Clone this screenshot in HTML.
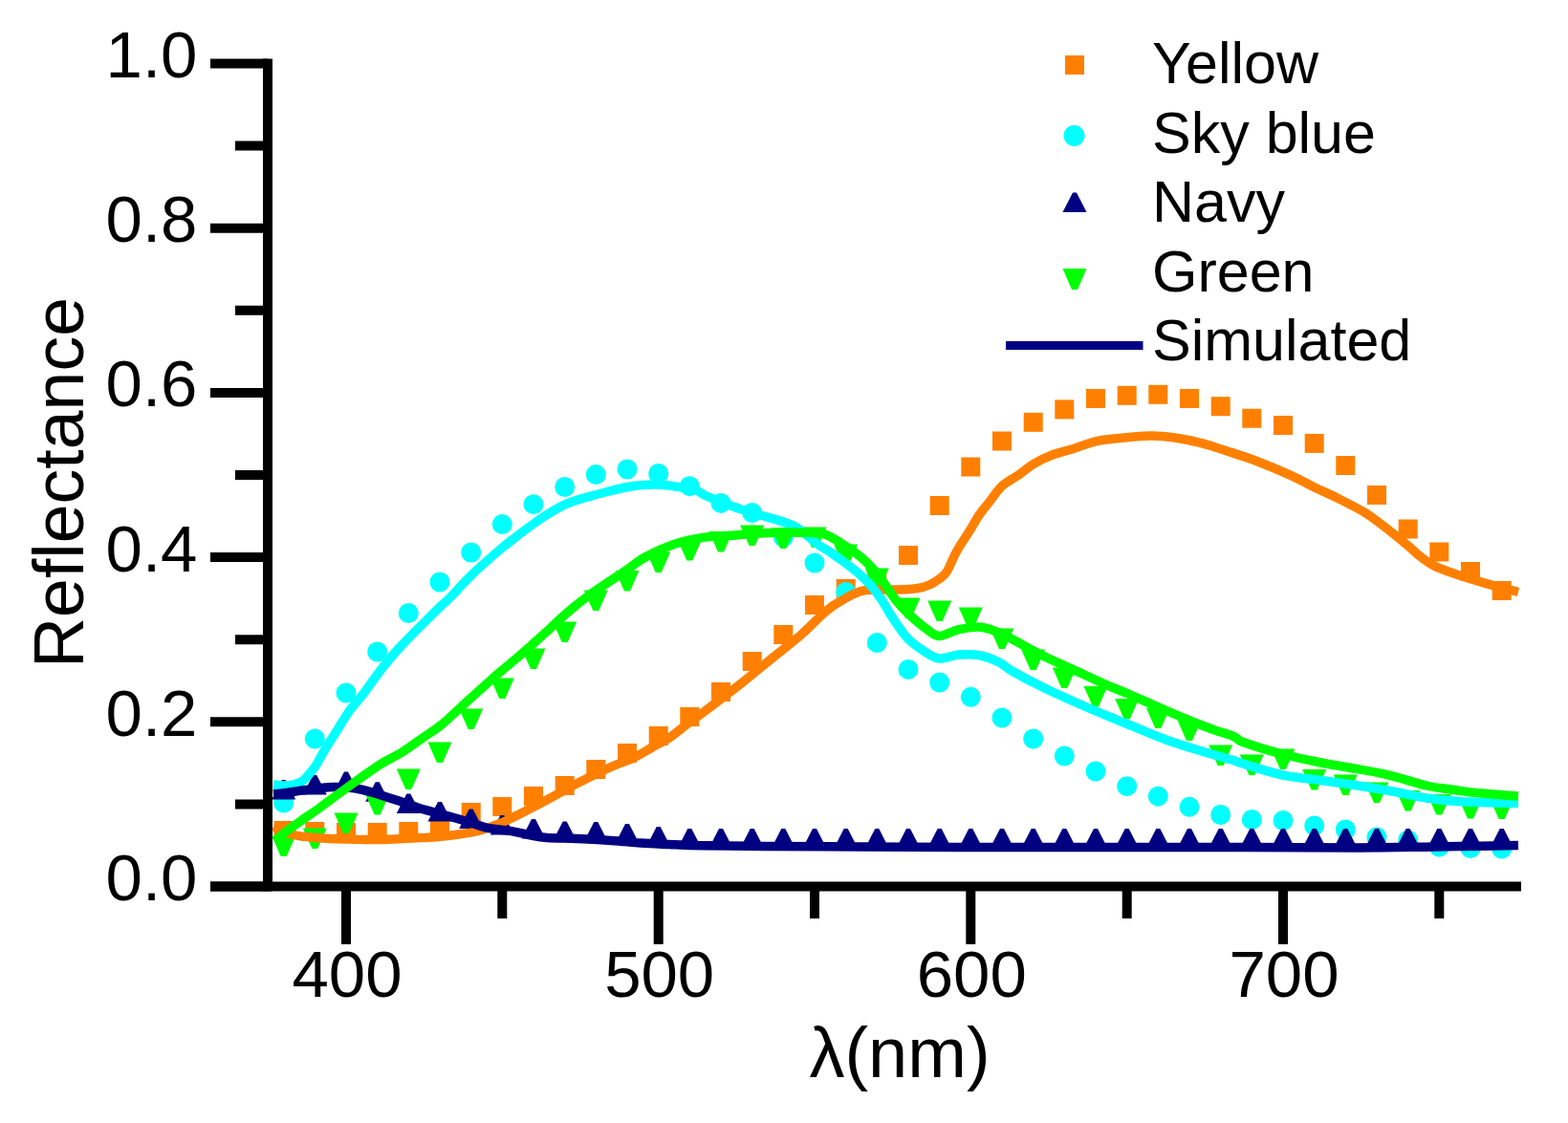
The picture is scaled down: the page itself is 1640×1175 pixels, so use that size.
<!DOCTYPE html>
<html><head><meta charset="utf-8"><title>Reflectance</title>
<style>
html,body{margin:0;padding:0;background:#fff;}
body{width:1640px;height:1175px;overflow:hidden;}
svg{display:block;}
text{font-family:"Liberation Sans",Arial,sans-serif;fill:#000;}
</style></head>
<body>
<svg width="1640" height="1175" viewBox="0 0 1640 1175">
<rect width="1640" height="1175" fill="#fff"/>
<line x1="280" y1="61.5" x2="280" y2="932.5" stroke="#000" stroke-width="10"/>
<line x1="220" y1="927.5" x2="1591" y2="927.5" stroke="#000" stroke-width="10"/>
<line x1="220" y1="927.5" x2="280" y2="927.5" stroke="#000" stroke-width="10"/>
<line x1="220" y1="755.3" x2="280" y2="755.3" stroke="#000" stroke-width="10"/>
<line x1="220" y1="583.1" x2="280" y2="583.1" stroke="#000" stroke-width="10"/>
<line x1="220" y1="410.9" x2="280" y2="410.9" stroke="#000" stroke-width="10"/>
<line x1="220" y1="238.7" x2="280" y2="238.7" stroke="#000" stroke-width="10"/>
<line x1="220" y1="66.5" x2="280" y2="66.5" stroke="#000" stroke-width="10"/>
<line x1="246" y1="841.4" x2="280" y2="841.4" stroke="#000" stroke-width="10"/>
<line x1="246" y1="669.2" x2="280" y2="669.2" stroke="#000" stroke-width="10"/>
<line x1="246" y1="497.0" x2="280" y2="497.0" stroke="#000" stroke-width="10"/>
<line x1="246" y1="324.8" x2="280" y2="324.8" stroke="#000" stroke-width="10"/>
<line x1="246" y1="152.6" x2="280" y2="152.6" stroke="#000" stroke-width="10"/>
<line x1="362.0" y1="927.5" x2="362.0" y2="988" stroke="#000" stroke-width="10"/>
<line x1="688.7" y1="927.5" x2="688.7" y2="988" stroke="#000" stroke-width="10"/>
<line x1="1015.3" y1="927.5" x2="1015.3" y2="988" stroke="#000" stroke-width="10"/>
<line x1="1342.0" y1="927.5" x2="1342.0" y2="988" stroke="#000" stroke-width="10"/>
<line x1="525.3" y1="927.5" x2="525.3" y2="961" stroke="#000" stroke-width="10"/>
<line x1="852.0" y1="927.5" x2="852.0" y2="961" stroke="#000" stroke-width="10"/>
<line x1="1178.7" y1="927.5" x2="1178.7" y2="961" stroke="#000" stroke-width="10"/>
<line x1="1505.3" y1="927.5" x2="1505.3" y2="961" stroke="#000" stroke-width="10"/>
<rect x="286.7" y="859.0" width="20" height="20" fill="#ff8000"/>
<rect x="319.3" y="860.0" width="20" height="20" fill="#ff8000"/>
<rect x="352.0" y="861.0" width="20" height="20" fill="#ff8000"/>
<rect x="384.7" y="861.0" width="20" height="20" fill="#ff8000"/>
<rect x="417.3" y="860.0" width="20" height="20" fill="#ff8000"/>
<rect x="450.0" y="859.0" width="20" height="20" fill="#ff8000"/>
<rect x="482.7" y="840.0" width="20" height="20" fill="#ff8000"/>
<rect x="515.3" y="834.0" width="20" height="20" fill="#ff8000"/>
<rect x="548.0" y="823.0" width="20" height="20" fill="#ff8000"/>
<rect x="580.7" y="812.0" width="20" height="20" fill="#ff8000"/>
<rect x="613.3" y="795.0" width="20" height="20" fill="#ff8000"/>
<rect x="646.0" y="778.0" width="20" height="20" fill="#ff8000"/>
<rect x="678.7" y="760.0" width="20" height="20" fill="#ff8000"/>
<rect x="711.3" y="740.0" width="20" height="20" fill="#ff8000"/>
<rect x="744.0" y="714.0" width="20" height="20" fill="#ff8000"/>
<rect x="776.7" y="682.0" width="20" height="20" fill="#ff8000"/>
<rect x="809.3" y="654.0" width="20" height="20" fill="#ff8000"/>
<rect x="842.0" y="623.0" width="20" height="20" fill="#ff8000"/>
<rect x="874.7" y="606.0" width="20" height="20" fill="#ff8000"/>
<rect x="907.3" y="598.0" width="20" height="20" fill="#ff8000"/>
<rect x="940.0" y="571.0" width="20" height="20" fill="#ff8000"/>
<rect x="972.7" y="519.0" width="20" height="20" fill="#ff8000"/>
<rect x="1005.3" y="478.5" width="20" height="20" fill="#ff8000"/>
<rect x="1038.0" y="451.5" width="20" height="20" fill="#ff8000"/>
<rect x="1070.7" y="431.8" width="20" height="20" fill="#ff8000"/>
<rect x="1103.3" y="418.4" width="20" height="20" fill="#ff8000"/>
<rect x="1136.0" y="407.0" width="20" height="20" fill="#ff8000"/>
<rect x="1168.7" y="403.8" width="20" height="20" fill="#ff8000"/>
<rect x="1201.3" y="402.8" width="20" height="20" fill="#ff8000"/>
<rect x="1234.0" y="407.0" width="20" height="20" fill="#ff8000"/>
<rect x="1266.7" y="415.2" width="20" height="20" fill="#ff8000"/>
<rect x="1299.3" y="427.7" width="20" height="20" fill="#ff8000"/>
<rect x="1332.0" y="435.0" width="20" height="20" fill="#ff8000"/>
<rect x="1364.7" y="453.9" width="20" height="20" fill="#ff8000"/>
<rect x="1397.3" y="477.0" width="20" height="20" fill="#ff8000"/>
<rect x="1430.0" y="508.0" width="20" height="20" fill="#ff8000"/>
<rect x="1462.7" y="543.5" width="20" height="20" fill="#ff8000"/>
<rect x="1495.3" y="567.5" width="20" height="20" fill="#ff8000"/>
<rect x="1528.0" y="588.0" width="20" height="20" fill="#ff8000"/>
<rect x="1560.7" y="608.0" width="20" height="20" fill="#ff8000"/>
<circle cx="296.7" cy="840.0" r="10.5" fill="#00ffff"/>
<circle cx="329.3" cy="773.0" r="10.5" fill="#00ffff"/>
<circle cx="362.0" cy="725.0" r="10.5" fill="#00ffff"/>
<circle cx="394.7" cy="682.0" r="10.5" fill="#00ffff"/>
<circle cx="427.3" cy="641.5" r="10.5" fill="#00ffff"/>
<circle cx="460.0" cy="609.0" r="10.5" fill="#00ffff"/>
<circle cx="492.7" cy="578.0" r="10.5" fill="#00ffff"/>
<circle cx="525.3" cy="548.6" r="10.5" fill="#00ffff"/>
<circle cx="558.0" cy="527.7" r="10.5" fill="#00ffff"/>
<circle cx="590.7" cy="509.5" r="10.5" fill="#00ffff"/>
<circle cx="623.3" cy="496.6" r="10.5" fill="#00ffff"/>
<circle cx="656.0" cy="491.0" r="10.5" fill="#00ffff"/>
<circle cx="688.7" cy="495.5" r="10.5" fill="#00ffff"/>
<circle cx="721.3" cy="508.7" r="10.5" fill="#00ffff"/>
<circle cx="754.0" cy="526.4" r="10.5" fill="#00ffff"/>
<circle cx="786.7" cy="536.5" r="10.5" fill="#00ffff"/>
<circle cx="819.3" cy="562.0" r="10.5" fill="#00ffff"/>
<circle cx="852.0" cy="589.0" r="10.5" fill="#00ffff"/>
<circle cx="884.7" cy="619.5" r="10.5" fill="#00ffff"/>
<circle cx="917.3" cy="672.5" r="10.5" fill="#00ffff"/>
<circle cx="950.0" cy="700.4" r="10.5" fill="#00ffff"/>
<circle cx="982.7" cy="714.0" r="10.5" fill="#00ffff"/>
<circle cx="1015.3" cy="729.3" r="10.5" fill="#00ffff"/>
<circle cx="1048.0" cy="751.0" r="10.5" fill="#00ffff"/>
<circle cx="1080.7" cy="773.0" r="10.5" fill="#00ffff"/>
<circle cx="1113.3" cy="791.0" r="10.5" fill="#00ffff"/>
<circle cx="1146.0" cy="807.0" r="10.5" fill="#00ffff"/>
<circle cx="1178.7" cy="822.7" r="10.5" fill="#00ffff"/>
<circle cx="1211.3" cy="833.2" r="10.5" fill="#00ffff"/>
<circle cx="1244.0" cy="844.3" r="10.5" fill="#00ffff"/>
<circle cx="1276.7" cy="852.5" r="10.5" fill="#00ffff"/>
<circle cx="1309.3" cy="857.5" r="10.5" fill="#00ffff"/>
<circle cx="1342.0" cy="858.5" r="10.5" fill="#00ffff"/>
<circle cx="1374.7" cy="864.0" r="10.5" fill="#00ffff"/>
<circle cx="1407.3" cy="868.0" r="10.5" fill="#00ffff"/>
<circle cx="1440.0" cy="876.0" r="10.5" fill="#00ffff"/>
<circle cx="1472.7" cy="879.0" r="10.5" fill="#00ffff"/>
<circle cx="1505.3" cy="886.0" r="10.5" fill="#00ffff"/>
<circle cx="1538.0" cy="887.5" r="10.5" fill="#00ffff"/>
<circle cx="1570.7" cy="888.0" r="10.5" fill="#00ffff"/>
<polygon points="294.7,816.0 298.7,816.0 309.2,836.5 284.2,836.5" fill="#000080"/>
<polygon points="327.3,811.0 331.3,811.0 341.8,831.5 316.8,831.5" fill="#000080"/>
<polygon points="360.0,807.6 364.0,807.6 374.5,828.1 349.5,828.1" fill="#000080"/>
<polygon points="392.7,818.3 396.7,818.3 407.2,838.8 382.2,838.8" fill="#000080"/>
<polygon points="425.3,830.5 429.3,830.5 439.8,851.0 414.8,851.0" fill="#000080"/>
<polygon points="458.0,839.0 462.0,839.0 472.5,859.5 447.5,859.5" fill="#000080"/>
<polygon points="490.7,846.5 494.7,846.5 505.2,867.0 480.2,867.0" fill="#000080"/>
<polygon points="523.3,853.0 527.3,853.0 537.8,873.5 512.8,873.5" fill="#000080"/>
<polygon points="556.0,857.0 560.0,857.0 570.5,877.5 545.5,877.5" fill="#000080"/>
<polygon points="588.7,859.5 592.7,859.5 603.2,880.0 578.2,880.0" fill="#000080"/>
<polygon points="621.3,860.0 625.3,860.0 635.8,880.5 610.8,880.5" fill="#000080"/>
<polygon points="654.0,862.0 658.0,862.0 668.5,882.5 643.5,882.5" fill="#000080"/>
<polygon points="686.7,865.0 690.7,865.0 701.2,885.5 676.2,885.5" fill="#000080"/>
<polygon points="719.3,867.0 723.3,867.0 733.8,887.5 708.8,887.5" fill="#000080"/>
<polygon points="752.0,867.0 756.0,867.0 766.5,887.5 741.5,887.5" fill="#000080"/>
<polygon points="784.7,867.0 788.7,867.0 799.2,887.5 774.2,887.5" fill="#000080"/>
<polygon points="817.3,867.0 821.3,867.0 831.8,887.5 806.8,887.5" fill="#000080"/>
<polygon points="850.0,867.0 854.0,867.0 864.5,887.5 839.5,887.5" fill="#000080"/>
<polygon points="882.7,867.0 886.7,867.0 897.2,887.5 872.2,887.5" fill="#000080"/>
<polygon points="915.3,867.0 919.3,867.0 929.8,887.5 904.8,887.5" fill="#000080"/>
<polygon points="948.0,867.0 952.0,867.0 962.5,887.5 937.5,887.5" fill="#000080"/>
<polygon points="980.7,867.0 984.7,867.0 995.2,887.5 970.2,887.5" fill="#000080"/>
<polygon points="1013.3,867.0 1017.3,867.0 1027.8,887.5 1002.8,887.5" fill="#000080"/>
<polygon points="1046.0,867.0 1050.0,867.0 1060.5,887.5 1035.5,887.5" fill="#000080"/>
<polygon points="1078.7,867.0 1082.7,867.0 1093.2,887.5 1068.2,887.5" fill="#000080"/>
<polygon points="1111.3,867.0 1115.3,867.0 1125.8,887.5 1100.8,887.5" fill="#000080"/>
<polygon points="1144.0,867.0 1148.0,867.0 1158.5,887.5 1133.5,887.5" fill="#000080"/>
<polygon points="1176.7,867.0 1180.7,867.0 1191.2,887.5 1166.2,887.5" fill="#000080"/>
<polygon points="1209.3,867.0 1213.3,867.0 1223.8,887.5 1198.8,887.5" fill="#000080"/>
<polygon points="1242.0,867.0 1246.0,867.0 1256.5,887.5 1231.5,887.5" fill="#000080"/>
<polygon points="1274.7,867.0 1278.7,867.0 1289.2,887.5 1264.2,887.5" fill="#000080"/>
<polygon points="1307.3,867.0 1311.3,867.0 1321.8,887.5 1296.8,887.5" fill="#000080"/>
<polygon points="1340.0,867.0 1344.0,867.0 1354.5,887.5 1329.5,887.5" fill="#000080"/>
<polygon points="1372.7,867.0 1376.7,867.0 1387.2,887.5 1362.2,887.5" fill="#000080"/>
<polygon points="1405.3,867.0 1409.3,867.0 1419.8,887.5 1394.8,887.5" fill="#000080"/>
<polygon points="1438.0,867.0 1442.0,867.0 1452.5,887.5 1427.5,887.5" fill="#000080"/>
<polygon points="1470.7,867.0 1474.7,867.0 1485.2,887.5 1460.2,887.5" fill="#000080"/>
<polygon points="1503.3,867.0 1507.3,867.0 1517.8,887.5 1492.8,887.5" fill="#000080"/>
<polygon points="1536.0,867.0 1540.0,867.0 1550.5,887.5 1525.5,887.5" fill="#000080"/>
<polygon points="1568.7,867.0 1572.7,867.0 1583.2,887.5 1558.2,887.5" fill="#000080"/>
<polygon points="284.2,874.5 309.2,874.5 299.7,896.0 293.7,896.0" fill="#00ff00"/>
<polygon points="316.8,866.5 341.8,866.5 332.3,888.0 326.3,888.0" fill="#00ff00"/>
<polygon points="349.5,850.5 374.5,850.5 365.0,872.0 359.0,872.0" fill="#00ff00"/>
<polygon points="382.2,831.0 407.2,831.0 397.7,852.5 391.7,852.5" fill="#00ff00"/>
<polygon points="414.8,804.5 439.8,804.5 430.3,826.0 424.3,826.0" fill="#00ff00"/>
<polygon points="447.5,776.5 472.5,776.5 463.0,798.0 457.0,798.0" fill="#00ff00"/>
<polygon points="480.2,741.5 505.2,741.5 495.7,763.0 489.7,763.0" fill="#00ff00"/>
<polygon points="512.8,709.5 537.8,709.5 528.3,731.0 522.3,731.0" fill="#00ff00"/>
<polygon points="545.5,678.5 570.5,678.5 561.0,700.0 555.0,700.0" fill="#00ff00"/>
<polygon points="578.2,650.5 603.2,650.5 593.7,672.0 587.7,672.0" fill="#00ff00"/>
<polygon points="610.8,617.5 635.8,617.5 626.3,639.0 620.3,639.0" fill="#00ff00"/>
<polygon points="643.5,597.0 668.5,597.0 659.0,618.5 653.0,618.5" fill="#00ff00"/>
<polygon points="676.2,577.5 701.2,577.5 691.7,599.0 685.7,599.0" fill="#00ff00"/>
<polygon points="708.8,565.0 733.8,565.0 724.3,586.5 718.3,586.5" fill="#00ff00"/>
<polygon points="741.5,556.1 766.5,556.1 757.0,577.6 751.0,577.6" fill="#00ff00"/>
<polygon points="774.2,549.5 799.2,549.5 789.7,571.0 783.7,571.0" fill="#00ff00"/>
<polygon points="806.8,552.5 831.8,552.5 822.3,574.0 816.3,574.0" fill="#00ff00"/>
<polygon points="839.5,551.5 864.5,551.5 855.0,573.0 849.0,573.0" fill="#00ff00"/>
<polygon points="872.2,569.5 897.2,569.5 887.7,591.0 881.7,591.0" fill="#00ff00"/>
<polygon points="904.8,594.5 929.8,594.5 920.3,616.0 914.3,616.0" fill="#00ff00"/>
<polygon points="937.5,625.5 962.5,625.5 953.0,647.0 947.0,647.0" fill="#00ff00"/>
<polygon points="970.2,628.5 995.2,628.5 985.7,650.0 979.7,650.0" fill="#00ff00"/>
<polygon points="1002.8,635.5 1027.8,635.5 1018.3,657.0 1012.3,657.0" fill="#00ff00"/>
<polygon points="1035.5,657.5 1060.5,657.5 1051.0,679.0 1045.0,679.0" fill="#00ff00"/>
<polygon points="1068.2,679.5 1093.2,679.5 1083.7,701.0 1077.7,701.0" fill="#00ff00"/>
<polygon points="1100.8,698.5 1125.8,698.5 1116.3,720.0 1110.3,720.0" fill="#00ff00"/>
<polygon points="1133.5,718.0 1158.5,718.0 1149.0,739.5 1143.0,739.5" fill="#00ff00"/>
<polygon points="1166.2,731.0 1191.2,731.0 1181.7,752.5 1175.7,752.5" fill="#00ff00"/>
<polygon points="1198.8,740.5 1223.8,740.5 1214.3,762.0 1208.3,762.0" fill="#00ff00"/>
<polygon points="1231.5,753.5 1256.5,753.5 1247.0,775.0 1241.0,775.0" fill="#00ff00"/>
<polygon points="1264.2,779.5 1289.2,779.5 1279.7,801.0 1273.7,801.0" fill="#00ff00"/>
<polygon points="1296.8,789.5 1321.8,789.5 1312.3,811.0 1306.3,811.0" fill="#00ff00"/>
<polygon points="1329.5,783.5 1354.5,783.5 1345.0,805.0 1339.0,805.0" fill="#00ff00"/>
<polygon points="1362.2,805.0 1387.2,805.0 1377.7,826.5 1371.7,826.5" fill="#00ff00"/>
<polygon points="1394.8,810.5 1419.8,810.5 1410.3,832.0 1404.3,832.0" fill="#00ff00"/>
<polygon points="1427.5,818.5 1452.5,818.5 1443.0,840.0 1437.0,840.0" fill="#00ff00"/>
<polygon points="1460.2,827.0 1485.2,827.0 1475.7,848.5 1469.7,848.5" fill="#00ff00"/>
<polygon points="1492.8,831.0 1517.8,831.0 1508.3,852.5 1502.3,852.5" fill="#00ff00"/>
<polygon points="1525.5,835.0 1550.5,835.0 1541.0,856.5 1535.0,856.5" fill="#00ff00"/>
<polygon points="1558.2,835.5 1583.2,835.5 1573.7,857.0 1567.7,857.0" fill="#00ff00"/>
<path d="M286.0,865.0 C289.5,866.4 299.7,871.6 307.0,873.5 C314.3,875.4 321.2,875.8 330.0,876.5 C338.8,877.2 348.3,877.7 360.0,878.0 C371.7,878.3 386.7,878.8 400.0,878.5 C413.3,878.2 430.3,877.0 440.0,876.5 C449.7,876.0 450.8,876.2 458.0,875.5 C465.2,874.8 476.0,873.5 483.0,872.5 C490.0,871.5 494.7,870.8 500.0,869.5 C505.3,868.2 510.0,866.3 515.0,864.5 C520.0,862.7 525.2,860.7 530.0,858.5 C534.8,856.3 538.9,854.1 544.0,851.5 C549.1,848.9 555.0,845.9 560.5,843.0 C566.0,840.1 571.9,837.0 577.0,834.3 C582.1,831.5 586.2,829.1 591.0,826.5 C595.8,823.9 600.2,821.5 605.5,818.8 C610.8,816.0 617.1,812.9 623.0,810.0 C628.9,807.1 634.2,804.5 641.0,801.6 C647.8,798.7 656.9,795.7 663.7,792.4 C670.5,789.1 676.0,785.4 682.0,782.0 C688.0,778.6 694.2,775.8 700.0,772.0 C705.8,768.2 709.7,764.5 717.0,759.0 C724.3,753.5 734.1,746.5 744.0,739.0 C753.9,731.5 766.1,722.3 776.6,714.0 C787.1,705.7 797.0,697.3 807.2,689.0 C817.4,680.7 829.0,672.0 837.8,664.3 C846.6,656.6 854.5,648.0 860.0,643.0 C865.5,638.0 867.3,636.6 871.0,634.0 C874.7,631.4 878.3,629.5 882.0,627.4 C885.7,625.3 889.3,623.0 893.0,621.4 C896.7,619.8 899.5,618.5 904.0,617.8 C908.5,617.1 914.0,617.1 920.0,617.0 C926.0,616.9 933.3,617.2 940.0,617.0 C946.7,616.8 954.7,616.3 960.0,615.5 C965.3,614.7 968.3,613.6 972.0,612.0 C975.7,610.4 978.9,608.3 982.0,606.0 C985.1,603.7 987.3,602.8 990.4,598.0 C993.5,593.2 996.4,584.3 1000.5,577.0 C1004.6,569.7 1011.1,560.3 1015.0,554.0 C1018.9,547.7 1020.5,544.1 1024.0,539.0 C1027.5,533.9 1032.0,528.7 1036.0,523.6 C1040.0,518.5 1043.3,512.8 1048.3,508.3 C1053.3,503.8 1060.5,500.3 1066.0,496.5 C1071.5,492.7 1075.5,488.7 1081.2,485.3 C1086.9,481.9 1093.2,478.9 1100.0,476.3 C1106.8,473.7 1114.7,472.0 1122.0,469.7 C1129.3,467.4 1136.6,464.1 1143.9,462.3 C1151.2,460.5 1156.2,460.0 1165.9,459.0 C1175.7,458.0 1192.2,456.3 1202.4,456.1 C1212.6,455.9 1218.3,456.5 1227.3,457.8 C1236.3,459.1 1246.8,461.2 1256.6,463.7 C1266.4,466.2 1276.2,469.6 1285.9,472.8 C1295.7,476.0 1304.4,478.6 1315.1,482.7 C1325.8,486.8 1339.9,492.8 1350.0,497.4 C1360.1,502.0 1367.0,506.1 1375.5,510.2 C1384.0,514.3 1392.5,517.9 1401.0,522.2 C1409.5,526.5 1419.5,531.5 1426.6,535.8 C1433.7,540.0 1437.9,543.5 1443.6,547.7 C1449.3,551.9 1455.4,556.8 1460.6,561.0 C1465.8,565.2 1470.8,569.5 1475.0,573.0 C1479.2,576.5 1481.4,579.1 1485.6,582.3 C1489.8,585.5 1494.3,589.1 1500.0,592.0 C1505.7,594.9 1510.8,596.7 1519.8,599.8 C1528.8,602.9 1542.5,607.1 1553.9,610.4 C1565.3,613.7 1582.3,618.0 1588.0,619.5" fill="none" stroke="#ff8000" stroke-width="9.5" stroke-linejoin="round" stroke-linecap="butt"/>
<path d="M286.0,821.0 C288.3,821.2 295.2,822.5 300.0,822.0 C304.8,821.5 310.8,820.3 315.0,818.0 C319.2,815.7 322.3,811.0 325.0,808.0 C327.7,805.0 328.5,804.0 331.0,800.0 C333.5,796.0 336.5,789.8 340.0,784.0 C343.5,778.2 347.7,771.8 352.0,765.0 C356.3,758.2 361.3,749.5 366.0,743.0 C370.7,736.5 375.0,732.5 380.0,726.0 C385.0,719.5 390.5,711.2 396.0,704.0 C401.5,696.8 407.3,689.5 413.0,683.0 C418.7,676.5 424.8,670.3 430.0,665.0 C435.2,659.7 439.5,655.5 444.0,651.0 C448.5,646.5 452.3,642.5 457.0,638.0 C461.7,633.5 467.5,628.5 472.0,624.0 C476.5,619.5 479.8,615.3 484.0,611.0 C488.2,606.7 490.5,604.0 497.0,598.0 C503.5,592.0 515.8,581.1 523.0,575.0 C530.2,568.9 534.2,566.0 540.0,561.5 C545.8,557.0 552.7,551.8 558.0,548.0 C563.3,544.2 567.4,541.4 572.0,538.5 C576.6,535.6 581.3,532.8 585.6,530.5 C589.9,528.2 593.7,526.6 598.0,525.0 C602.3,523.4 604.7,522.8 611.2,521.0 C617.7,519.2 628.3,516.1 636.8,514.0 C645.3,511.9 653.9,509.7 662.4,508.5 C670.9,507.3 680.7,506.9 688.0,507.0 C695.3,507.1 699.3,508.0 706.0,509.0 C712.7,510.0 722.5,511.3 728.0,513.0 C733.5,514.7 732.5,516.2 739.0,519.0 C745.5,521.8 758.2,526.8 767.0,530.0 C775.8,533.2 783.5,535.4 792.0,538.0 C800.5,540.6 811.3,543.3 818.0,545.5 C824.7,547.7 827.5,548.4 832.0,551.0 C836.5,553.6 841.0,557.8 845.0,561.0 C849.0,564.2 852.2,567.2 856.0,570.0 C859.8,572.8 864.0,574.8 868.0,577.5 C872.0,580.2 876.0,583.1 880.0,586.0 C884.0,588.9 888.2,592.0 892.0,595.0 C895.8,598.0 899.2,600.8 902.5,604.0 C905.8,607.2 908.8,610.1 912.0,614.0 C915.2,617.9 918.3,621.9 922.0,627.4 C925.7,632.9 929.4,640.2 934.0,647.0 C938.6,653.8 943.9,662.2 949.4,668.0 C954.9,673.8 961.7,678.2 967.2,681.7 C972.7,685.2 976.6,688.5 982.6,689.0 C988.6,689.5 995.8,685.5 1003.0,685.0 C1010.2,684.5 1019.0,684.7 1026.0,686.0 C1033.0,687.3 1039.3,690.2 1045.0,693.0 C1050.7,695.8 1052.4,698.7 1060.0,703.0 C1067.6,707.3 1079.5,713.6 1090.6,719.0 C1101.7,724.4 1114.5,730.2 1126.4,735.5 C1138.3,740.8 1153.0,746.8 1162.0,750.5 C1171.0,754.2 1170.4,754.0 1180.2,758.0 C1190.0,762.0 1207.4,769.6 1221.0,774.5 C1234.6,779.4 1250.5,784.0 1262.0,787.5 C1273.5,791.0 1283.7,793.6 1290.0,795.5 C1296.3,797.4 1291.5,796.5 1300.0,799.0 C1308.5,801.5 1327.3,807.9 1341.0,810.8 C1354.7,813.7 1370.5,814.9 1382.0,816.5 C1393.5,818.1 1398.5,818.8 1410.0,820.5 C1421.5,822.2 1437.3,824.6 1451.0,827.0 C1464.7,829.4 1480.9,833.2 1492.0,835.0 C1503.1,836.8 1508.4,837.2 1517.5,838.0 C1526.6,838.8 1535.0,839.1 1546.8,839.5 C1558.5,839.9 1581.1,840.3 1588.0,840.5" fill="none" stroke="#00ffff" stroke-width="9.5" stroke-linejoin="round" stroke-linecap="butt"/>
<path d="M286.0,831.0 C288.3,830.8 295.0,830.2 300.0,829.5 C305.0,828.8 309.3,827.9 316.0,827.0 C322.7,826.1 334.0,824.6 340.0,824.0 C346.0,823.4 346.2,823.2 352.0,823.5 C357.8,823.8 367.5,824.2 375.0,825.5 C382.5,826.8 389.5,829.2 397.0,831.5 C404.5,833.8 412.8,836.6 420.0,839.0 C427.2,841.4 432.7,843.8 440.0,846.0 C447.3,848.2 455.7,850.2 464.0,852.5 C472.3,854.8 482.7,857.8 490.0,860.0 C497.3,862.2 500.7,864.2 508.0,865.8 C515.3,867.4 526.2,868.1 533.7,869.4 C541.2,870.7 546.6,872.3 553.0,873.5 C559.4,874.7 563.7,875.8 572.0,876.5 C580.3,877.2 591.8,877.0 603.0,877.5 C614.2,878.0 627.8,878.8 639.0,879.5 C650.2,880.2 659.8,881.3 670.0,882.0 C680.2,882.7 689.2,883.0 700.0,883.5 C710.8,884.0 718.3,884.5 735.0,884.8 C751.7,885.1 772.5,885.3 800.0,885.5 C827.5,885.7 866.7,885.8 900.0,886.0 C933.3,886.2 966.7,886.4 1000.0,886.5 C1033.3,886.6 1050.0,886.5 1100.0,886.5 C1150.0,886.5 1246.7,886.4 1300.0,886.5 C1353.3,886.6 1386.7,887.1 1420.0,887.0 C1453.3,886.9 1472.0,886.4 1500.0,886.0 C1528.0,885.6 1573.3,884.8 1588.0,884.5" fill="none" stroke="#000080" stroke-width="9.5" stroke-linejoin="round" stroke-linecap="butt"/>
<path d="M288.0,880.0 C289.7,878.5 293.3,874.7 298.0,871.0 C302.7,867.3 310.0,862.2 316.0,858.0 C322.0,853.8 328.1,849.8 334.0,845.5 C339.9,841.2 345.6,836.8 351.5,832.5 C357.4,828.2 363.5,823.8 369.4,819.5 C375.3,815.2 381.9,810.5 387.0,807.0 C392.1,803.5 394.4,801.6 400.0,798.3 C405.6,795.0 413.8,791.2 420.6,787.0 C427.4,782.8 434.2,777.5 441.0,772.8 C447.8,768.0 454.7,764.0 461.5,758.5 C468.3,753.0 475.2,746.1 482.0,740.0 C488.8,733.9 495.2,727.8 502.0,721.7 C508.8,715.6 516.6,708.7 523.0,703.2 C529.4,697.7 534.9,693.4 540.4,688.7 C545.9,684.0 550.9,679.5 556.0,675.0 C561.1,670.5 566.0,666.2 571.0,661.6 C576.0,657.0 580.9,652.1 586.0,647.5 C591.1,642.9 596.7,638.1 601.7,634.0 C606.7,629.9 611.0,626.7 616.0,623.0 C621.0,619.3 625.8,616.2 632.0,612.0 C638.2,607.8 645.7,602.9 653.0,598.0 C660.3,593.1 666.9,587.3 675.6,582.5 C684.4,577.7 695.5,572.6 705.5,569.2 C715.5,565.9 725.4,563.9 735.4,562.4 C745.4,560.9 755.7,561.0 765.2,560.3 C774.7,559.6 783.6,558.8 792.4,558.3 C801.2,557.8 808.4,557.1 818.0,557.0 C827.6,556.9 842.3,557.1 850.0,557.5 C857.7,557.9 859.0,557.7 864.0,559.5 C869.0,561.3 874.0,564.7 880.0,568.5 C886.0,572.3 894.7,578.2 900.0,582.5 C905.3,586.8 908.4,590.2 912.0,594.0 C915.6,597.8 917.4,599.8 921.4,605.3 C925.4,610.8 931.6,621.0 936.3,627.0 C941.0,633.0 943.8,636.2 949.4,641.5 C955.0,646.8 964.3,654.7 969.8,658.7 C975.3,662.7 977.1,665.5 982.6,665.5 C988.1,665.5 995.8,660.2 1003.0,658.7 C1010.2,657.2 1019.0,655.7 1026.0,656.2 C1033.0,656.8 1039.3,659.8 1045.0,662.0 C1050.7,664.2 1052.4,665.5 1060.0,669.5 C1067.6,673.5 1079.5,680.5 1090.6,686.0 C1101.7,691.5 1114.5,696.9 1126.4,702.4 C1138.3,707.9 1153.1,714.8 1162.1,718.7 C1171.1,722.6 1170.4,721.8 1180.2,726.0 C1190.0,730.2 1207.4,738.2 1221.0,744.0 C1234.6,749.8 1250.5,756.4 1262.0,760.8 C1273.5,765.2 1283.6,767.9 1290.0,770.5 C1296.4,773.1 1291.7,773.4 1300.2,776.5 C1308.7,779.6 1327.4,785.4 1341.0,789.0 C1354.6,792.6 1370.5,795.7 1382.0,798.0 C1393.5,800.3 1398.5,800.9 1410.0,803.0 C1421.5,805.1 1437.3,807.4 1451.0,810.6 C1464.7,813.8 1480.9,819.4 1492.0,822.0 C1503.1,824.6 1508.4,824.7 1517.5,826.0 C1526.6,827.3 1535.0,828.6 1546.8,829.8 C1558.5,831.0 1581.1,832.5 1588.0,833.0" fill="none" stroke="#00ff00" stroke-width="9.5" stroke-linejoin="round" stroke-linecap="butt"/>
<text x="206.5" y="942.0" text-anchor="end" font-size="69">0.0</text>
<text x="206.5" y="769.8" text-anchor="end" font-size="69">0.2</text>
<text x="206.5" y="597.6" text-anchor="end" font-size="69">0.4</text>
<text x="206.5" y="425.4" text-anchor="end" font-size="69">0.6</text>
<text x="206.5" y="253.2" text-anchor="end" font-size="69">0.8</text>
<text x="206.5" y="81.0" text-anchor="end" font-size="69">1.0</text>
<text x="363.0" y="1043" text-anchor="middle" font-size="69">400</text>
<text x="689.7" y="1043" text-anchor="middle" font-size="69">500</text>
<text x="1016.3" y="1043" text-anchor="middle" font-size="69">600</text>
<text x="1343.0" y="1043" text-anchor="middle" font-size="69">700</text>
<text x="87" y="505" text-anchor="middle" font-size="73.5" transform="rotate(-90 87 505)">Reflectance</text>
<text x="941" y="1127" text-anchor="middle" font-size="74">λ(nm)</text>
<rect x="1114.0" y="58.0" width="20" height="20" fill="#ff8000"/>
<circle cx="1123.5" cy="142.0" r="11" fill="#00ffff"/>
<polygon points="1122,201.5 1126,201.5 1136.5,222 1111.5,222" fill="#000080"/>
<polygon points="1111.5,281 1136.5,281 1127,303 1121,303" fill="#00ff00"/>
<line x1="1052" y1="361.4" x2="1195.5" y2="361.4" stroke="#000080" stroke-width="9"/>
<text x="1205" y="87" font-size="61">Yellow</text>
<text x="1205" y="160" font-size="61">Sky blue</text>
<text x="1205" y="232" font-size="61">Navy</text>
<text x="1205" y="305" font-size="61">Green</text>
<text x="1205" y="377" font-size="61">Simulated</text>
</svg>
</body></html>
